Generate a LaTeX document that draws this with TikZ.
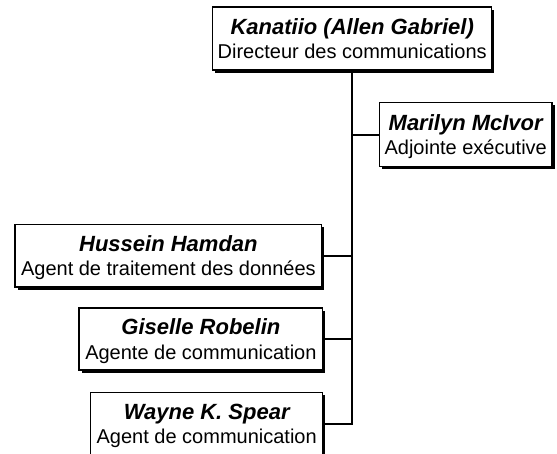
\documentclass[tikz,border=0pt]{standalone}
\usepackage{fontspec}
\setmainfont{Liberation Sans}
\usetikzlibrary{shadows}
\begin{document}
\begin{tikzpicture}[x=1pt,y=-1pt,
  box/.style={draw=black, line width=1.2pt, fill=white, inner sep=0pt,
    drop shadow={shadow xshift=2.6pt, shadow yshift=-2.6pt, opacity=1, fill=black}},
  who/.style={font=\fontsize{22}{26}\selectfont\bfseries\itshape, anchor=base, inner sep=0pt},
  role/.style={font=\fontsize{20}{26}\selectfont, anchor=base, inner sep=0pt},
  link/.style={line width=2pt}]
\useasboundingbox (0,0) rectangle (557,453);

% boxes
\node[box, minimum width=279pt, minimum height=63pt] (dir) at (352.2,38.5) {};
\node[box, minimum width=172.7pt, minimum height=64.3pt] (mci) at (465.7,134.7) {};
\node[box, minimum width=306.7pt, minimum height=62.5pt] (ham) at (168.4,255.8) {};
\node[box, minimum width=243.7pt, minimum height=62pt] (rob) at (200.9,339) {};
\node[box, minimum width=232pt, minimum height=62.5pt] (spe) at (206.7,423.9) {};

% connectors
\draw[link] (dir.south) -- (dir.south |- spe.east) -- (spe.east);
\draw[link] (mci.west) -- (mci.west -| dir.south);
\draw[link] (ham.east) -- (ham.east -| dir.south);
\draw[link] (rob.east) -- (rob.east -| dir.south);

% texts
\node[who]  (dirn) at ([yshift=4.5pt]dir.center) {Kanatiio (Allen Gabriel)};
\node[role] (dirr) at ([yshift=-20pt]dir.center) {Directeur des communications};
\node[who]  (mcin) at ([yshift=4.5pt]mci.center) {Marilyn McIvor};
\node[role] (mcir) at ([yshift=-20pt]mci.center) {Adjointe exécutive};
\node[who]  (hamn) at ([yshift=4.5pt]ham.center) {Hussein Hamdan};
\node[role] (hamr) at ([yshift=-20pt]ham.center) {Agent de traitement des données};
\node[who]  (robn) at ([yshift=4.5pt]rob.center) {Giselle Robelin};
\node[role] (robr) at ([yshift=-20pt]rob.center) {Agente de communication};
\node[who]  (spen) at ([yshift=4.5pt]spe.center) {Wayne K. Spear};
\node[role] (sper) at ([yshift=-20pt]spe.center) {Agent de communication};
\end{tikzpicture}
\end{document}
